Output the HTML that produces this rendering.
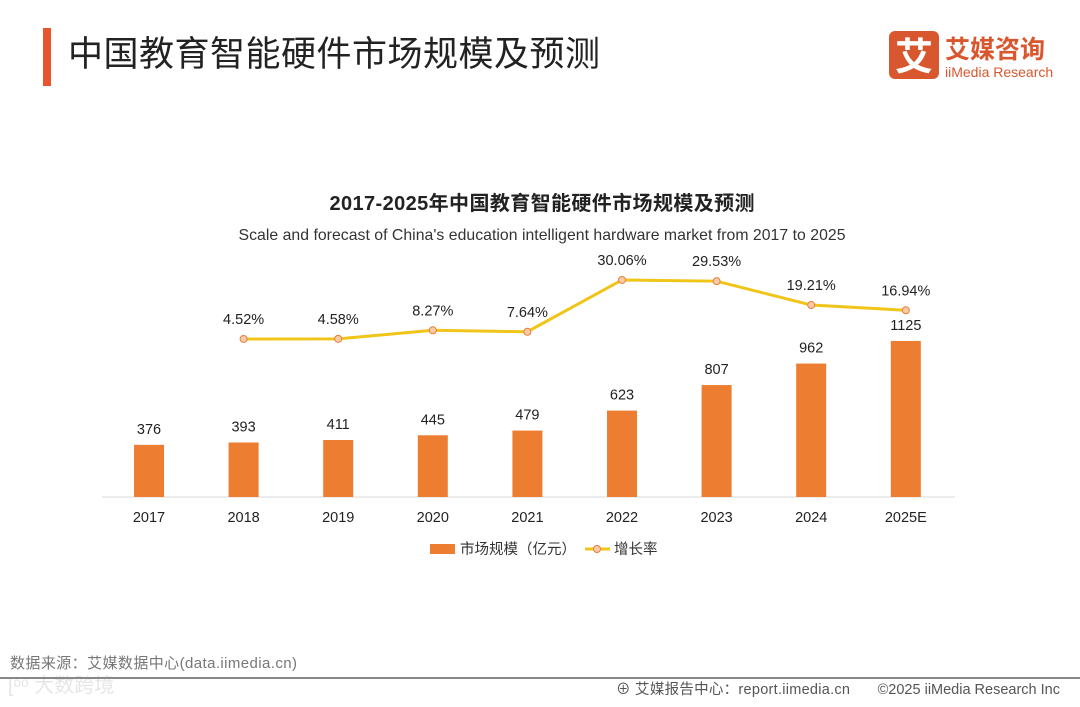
<!DOCTYPE html>
<html><head><meta charset="utf-8"><style>
body{margin:0;background:#fff;width:1080px;height:702px;overflow:hidden;font-family:"Liberation Sans","Noto Sans CJK SC",sans-serif;}
svg text{font-family:"Liberation Sans","Noto Sans CJK SC",sans-serif;}
</style></head><body>
<svg width="1080" height="702" viewBox="0 0 1080 702">
<rect x="43" y="28" width="8" height="58" fill="#E8542E"/>
<text x="68" y="66" font-size="35" fill="#222" textLength="532">中国教育智能硬件市场规模及预测</text>
<g>
<rect x="889" y="31" width="50" height="48" rx="6" fill="#D9572E"/>
<text x="914" y="70" font-size="38" font-weight="bold" fill="#fff" text-anchor="middle">艾</text>
<text x="945" y="58" font-size="25" font-weight="bold" fill="#D9572E">艾媒咨询</text>
<text x="945" y="77" font-size="14" fill="#D9572E">iiMedia Research</text>
</g>
<text x="542" y="210" font-size="20" font-weight="bold" fill="#222" text-anchor="middle" textLength="425">2017-2025年中国教育智能硬件市场规模及预测</text>
<text x="542" y="240" font-size="15.8" fill="#333" text-anchor="middle" textLength="607">Scale and forecast of China's education intelligent hardware market from 2017 to 2025</text>
<line x1="102" y1="497" x2="955" y2="497" stroke="#d9d9d9" stroke-width="1"/>
<g id="chart"></g>
<g>
<rect x="430" y="544" width="25" height="10" fill="#ED7D31"/>
<text x="460" y="554" font-size="14.5" fill="#333">市场规模（亿元）</text>
<line x1="585" y1="549" x2="610" y2="549" stroke="#F0C419" stroke-width="3"/>
<circle cx="597" cy="549" r="3.5" fill="#F8CBAD" stroke="#ED7D31" stroke-width="1"/>
<text x="614" y="554" font-size="14.5" fill="#333">增长率</text>
</g>
<text x="10" y="668" font-size="15" fill="#777" textLength="287">数据来源：艾媒数据中心(data.iimedia.cn)</text>
<text x="8" y="692" font-size="20" fill="#e6e6e6">[ᵒᵒ 大数跨境</text>
<line x1="0" y1="678" x2="1080" y2="678" stroke="#888" stroke-width="2"/>
<text x="616" y="694" font-size="14.5" fill="#555" textLength="234">⊕ 艾媒报告中心：report.iimedia.cn</text>
<text x="1060" y="694" font-size="14.5" fill="#555" text-anchor="end">©2025  iiMedia Research  Inc</text>
</svg>
<script>
const categories=["2017","2018","2019","2020","2021","2022","2023","2024","2025E"];
const marketSize=[376,393,411,445,479,623,807,962,1125];
const growthRate=[null,4.52,4.58,8.27,7.64,30.06,29.53,19.21,16.94];
const NS="http://www.w3.org/2000/svg";
const g=document.getElementById('chart');
const xOf=i=>149+i*94.6;
const yBar=v=>497-v*0.1387;
const yLine=v=>349.4-v*2.31;
function mk(t,a){const e=document.createElementNS(NS,t);for(const k in a)e.setAttribute(k,a[k]);g.appendChild(e);return e;}
categories.forEach((c,i)=>{
  const r=mk('rect',{x:xOf(i)-15,y:yBar(marketSize[i]),width:30,height:497-yBar(marketSize[i]),fill:'#ED7D31'});
  
  
  const t=mk('text',{x:xOf(i),y:yBar(marketSize[i])-11,'font-size':14.5,fill:'#222','text-anchor':'middle'});t.textContent=marketSize[i];
  
  
  const l=mk('text',{x:xOf(i),y:522,'font-size':14.5,fill:'#222','text-anchor':'middle'});l.textContent=c;
  
  
});
let pts=[];growthRate.forEach((v,i)=>{if(v!==null)pts.push(xOf(i)+','+yLine(v));});
const pl=mk('polyline',{points:pts.join(' '),fill:'none',stroke:'#F0C419','stroke-width':3});


growthRate.forEach((v,i)=>{if(v===null)return;
  const c=mk('circle',{cx:xOf(i),cy:yLine(v),r:3.5,fill:'#F8CBAD',stroke:'#ED7D31','stroke-width':1});
  
  
  const t=mk('text',{x:xOf(i),y:yLine(v)-15,'font-size':14.5,fill:'#222','text-anchor':'middle'});t.textContent=v.toFixed(2)+'%';
  
  
});
</script>
</body></html>
